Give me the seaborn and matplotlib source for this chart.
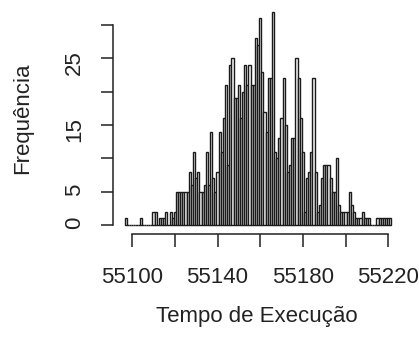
import pandas as pd
import seaborn as sns
import matplotlib.pyplot as plt

# execution time values (integer units) and how often each occurred
tempo = [55097, 55104, 55110, 55111, 55113, 55114, 55115, 55116, 55118, 55119,
         55120, 55121, 55122, 55123, 55124, 55125, 55126, 55127, 55128, 55129,
         55130, 55131, 55132, 55133, 55134, 55135, 55136, 55137, 55138, 55139,
         55140, 55141, 55142, 55143, 55144, 55145, 55146, 55147, 55148, 55149,
         55150, 55151, 55152, 55153, 55154, 55155, 55156, 55157, 55158, 55159,
         55160, 55161, 55162, 55163, 55164, 55165, 55166, 55167, 55168, 55169,
         55170, 55171, 55172, 55173, 55174, 55175, 55176, 55177, 55178, 55179,
         55180, 55181, 55182, 55183, 55184, 55185, 55186, 55187, 55188, 55189,
         55190, 55191, 55192, 55193, 55194, 55195, 55196, 55197, 55198, 55199,
         55200, 55201, 55202, 55203, 55204, 55205, 55206, 55207, 55208, 55209,
         55210, 55211, 55215, 55216, 55217, 55218, 55219, 55220, 55221]
freq = [1, 1, 2, 2, 1, 1, 1, 2, 2, 1,
        2, 5, 5, 5, 5, 5, 5, 8, 6, 11,
        7, 8, 5, 5, 6, 11, 6, 14, 7, 5,
        8, 14, 11, 16, 21, 9, 24, 25, 19, 19,
        21, 16, 20, 24, 21, 24, 21, 21, 28, 27,
        31, 23, 17, 14, 22, 22, 32, 11, 10, 13,
        16, 22, 15, 8, 9, 13, 13, 25, 22, 16,
        11, 2, 7, 8, 11, 22, 8, 2, 3, 7,
        9, 9, 9, 7, 5, 5, 10, 3, 2, 2,
        2, 2, 5, 3, 2, 1, 1, 1, 2, 1,
        1, 1, 1, 1, 1, 1, 1, 1, 1]

x_ticks = [55100, 55120, 55140, 55160, 55180, 55200, 55220]
x_labels = ["55100", "", "55140", "", "55180", "", "55220"]
y_ticks = [0, 5, 10, 15, 20, 25, 30]
y_labels = ["0", "5", "", "15", "", "25", ""]

df = pd.DataFrame({"tempo": tempo, "freq": freq})

sns.set_style("ticks")
plt.rcParams["font.family"] = ["Liberation Sans", "DejaVu Sans"]

fig = plt.figure(figsize=(4.19, 3.38), dpi=100)
ax = fig.add_axes([113 / 419, (338 - 233.5) / 338, 288 / 419, 230.5 / 338])

sns.histplot(data=df, x="tempo", weights="freq", discrete=True,
             color="#f4f4f4", edgecolor="#1a1a1a", linewidth=1.0, alpha=1, ax=ax)

ax.set_xlim(55091, 55226)
ax.set_ylim(-1.28, 33.28)

# R-style detached axes
ax.spines["top"].set_visible(False)
ax.spines["right"].set_visible(False)
ax.spines["left"].set_bounds(0, 30)
ax.spines["bottom"].set_bounds(55100, 55220)
for s in ["left", "bottom"]:
    ax.spines[s].set_linewidth(1.1)
    ax.spines[s].set_color("#222222")

ax.set_xticks(x_ticks)
ax.set_xticklabels(x_labels)
ax.set_yticks(y_ticks)
ax.set_yticklabels(y_labels)
ax.tick_params(axis="both", direction="out", length=9, width=1.1,
               labelsize=16, colors="#222222")
ax.tick_params(axis="x", pad=15)
ax.tick_params(axis="y", pad=11, labelrotation=90)

ax.set_xlabel("Tempo de Execução", fontsize=16, color="#222222")
ax.set_ylabel("Frequência", fontsize=16, color="#222222")
ax.xaxis.label.set_va("center")
ax.yaxis.label.set_va("center")
ax.xaxis.set_label_coords(0.5, -0.362)
ax.yaxis.set_label_coords(-0.3125, 0.5)

fig.savefig("out.png", dpi=100)
plt.close(fig)
